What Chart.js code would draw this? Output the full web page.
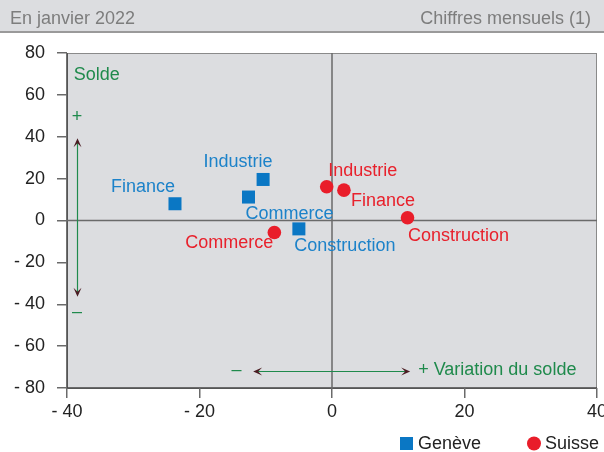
<!DOCTYPE html>
<html><head><meta charset="utf-8">
<script src="https://cdn.jsdelivr.net/npm/chart.js@4"></script>
<style>html,body{margin:0;padding:0;background:#fff}canvas{display:block}</style>
</head><body>
<canvas id="c" width="604" height="452"></canvas>
<script>
// ---- data ----
const categories = ['Finance', 'Industrie', 'Commerce', 'Construction'];
const genevaX = [-23.7, -10.4, -12.6, -5.0];
const genevaY = [8.0, 19.6, 11.2, -4.0];
const suisseX = [1.8, -0.8, -8.7, 11.4];
const suisseY = [14.5, 16.1, -5.7, 1.3];
const xTicks = [-40, -20, 0, 20, 40];
const yTicks = [80, 60, 40, 20, 0, -20, -40, -60, -80];
const seriesNames = ['Genève', 'Suisse'];
const headerLeft = 'En janvier 2022';
const headerRight = 'Chiffres mensuels (1)';
const yAxisTitle = 'Solde';
const xAxisTitle = '+ Variation du solde';

// ---- styles ----
const FONT = '"Liberation Sans", Arial, sans-serif';
const BLUE = '#0a77c4', BLUE_TXT = '#1c82c9';
const RED = '#e91d2a', RED_TXT = '#e8212c';
const GREEN = '#1f8a4c';
const BG = '#dcdde0';
const PLOT_RIGHT = 597;
const labelOffsets = {
  0: [[-32, -17], [-25, -17], [41, 17], [46, 17]],
  1: [[39, 11], [36, -16], [-45, 11], [51, 18]]
};

const fmt = v => v < 0 ? '- ' + Math.abs(v) : String(v);

const plugin = {
  id: 'deco',
  afterLayout(chart) {
    // let the plot reach the right edge (the last tick label is clipped, as in the original)
    const xs = chart.scales.x, a = chart.chartArea;
    xs.right = PLOT_RIGHT;
    xs.width = xs.right - xs.left;
    xs.configure();
    a.right = PLOT_RIGHT;
    a.width = a.right - a.left;
  },
  beforeDraw(chart) {
    const ctx = chart.ctx, a = chart.chartArea;
    ctx.save();
    // header band
    ctx.fillStyle = BG;
    ctx.fillRect(0, 0, 604, 31);
    ctx.fillStyle = '#9a9a9a';
    ctx.fillRect(0, 31, 604, 2);
    ctx.font = '18px ' + FONT;
    ctx.fillStyle = '#7d7d7d';
    ctx.textBaseline = 'middle';
    ctx.textAlign = 'left';
    ctx.fillText(headerLeft, 10, 19);
    ctx.textAlign = 'right';
    ctx.fillText(headerRight, 591, 19);
    // plot area
    ctx.fillStyle = BG;
    ctx.fillRect(a.left, a.top, a.right - a.left, a.bottom - a.top);
    ctx.strokeStyle = '#8a8a8a';
    ctx.lineWidth = 1;
    ctx.strokeRect(a.left + 0.5, a.top + 0.5, a.right - a.left - 1, a.bottom - a.top);
    ctx.strokeStyle = '#444';
    ctx.lineWidth = 1.5;
    ctx.beginPath();
    ctx.moveTo(a.left, a.bottom); ctx.lineTo(a.right, a.bottom);
    ctx.moveTo(a.left, a.top); ctx.lineTo(a.left, a.bottom);
    ctx.stroke();
    // zero lines
    const xs = chart.scales.x, ys = chart.scales.y;
    ctx.strokeStyle = '#6a6a6a';
    ctx.lineWidth = 1.5;
    ctx.beginPath();
    const x0 = xs.getPixelForValue(0), y0 = ys.getPixelForValue(0);
    ctx.moveTo(x0, a.top); ctx.lineTo(x0, a.bottom);
    ctx.moveTo(a.left, y0); ctx.lineTo(a.right, y0);
    ctx.stroke();
    // annotations
    const px = v => xs.getPixelForValue(v), py = v => ys.getPixelForValue(v);
    ctx.font = '18px ' + FONT;
    ctx.fillStyle = GREEN;
    ctx.textBaseline = 'middle';
    ctx.textAlign = 'left';
    ctx.fillText(yAxisTitle, px(-39.0), py(69.4));
    ctx.textAlign = 'center';
    ctx.fillText('+', px(-38.5), py(49.6));
    ctx.fillText('–', px(-38.5), py(-43.5));
    ctx.fillText('–', px(-14.4), py(-71.6));
    ctx.textAlign = 'left';
    ctx.fillText(xAxisTitle, px(13.0), py(-71.6));
    // arrows
    ctx.strokeStyle = GREEN;
    ctx.lineWidth = 1.2;
    const ax = Math.round(px(-38.5)) + 0.5, ay1 = py(39.3), ay2 = py(-36.4);
    ctx.beginPath(); ctx.moveTo(ax, ay1 + 4); ctx.lineTo(ax, ay2 - 4); ctx.stroke();
    const hy = Math.round(py(-71.8)) + 0.5, hx1 = px(-11.9), hx2 = px(11.8);
    ctx.beginPath(); ctx.moveTo(hx1 + 4, hy); ctx.lineTo(hx2 - 4, hy); ctx.stroke();
    ctx.fillStyle = '#4a1c22';
    const head = (x, y, dx, dy) => {
      const L = 9, W = 4, B = 5;
      const nx = -dy, ny = dx;
      ctx.beginPath();
      ctx.moveTo(x, y);
      ctx.lineTo(x - dx * L + nx * W, y - dy * L + ny * W);
      ctx.lineTo(x - dx * B, y - dy * B);
      ctx.lineTo(x - dx * L - nx * W, y - dy * L - ny * W);
      ctx.closePath();
      ctx.fill();
    };
    head(ax, ay1, 0, -1);
    head(ax, ay2, 0, 1);
    head(hx1, hy, -1, 0);
    head(hx2, hy, 1, 0);
    ctx.restore();
  },
  afterDraw(chart) {
    const ctx = chart.ctx;
    ctx.save();
    ctx.font = '18px ' + FONT;
    ctx.textAlign = 'center';
    ctx.textBaseline = 'middle';
    chart.data.datasets.forEach((ds, di) => {
      const meta = chart.getDatasetMeta(di);
      ctx.fillStyle = di === 0 ? BLUE_TXT : RED_TXT;
      meta.data.forEach((el, i) => {
        const o = labelOffsets[di][i];
        ctx.fillText(categories[i], el.x + o[0], el.y + o[1]);
      });
    });
    // legend
    ctx.textAlign = 'left';
    ctx.fillStyle = BLUE;
    ctx.fillRect(400, 437, 13, 13);
    ctx.fillStyle = '#222';
    ctx.fillText(seriesNames[0], 418, 444);
    ctx.fillStyle = RED;
    ctx.beginPath(); ctx.arc(534, 443.5, 7, 0, Math.PI * 2); ctx.fill();
    ctx.fillStyle = '#222';
    ctx.fillText(seriesNames[1], 545, 444);
    ctx.restore();
  }
};

const axisCommon = {
  type: 'linear',
  grid: { drawOnChartArea: false, drawTicks: true, tickLength: 10, color: '#6a6a6a', lineWidth: 1.5 },
  border: { display: false },
  ticks: { font: { family: FONT, size: 18 }, color: '#222', callback: v => fmt(v), autoSkip: false, maxRotation: 0 }
};

new Chart(document.getElementById('c'), {
  type: 'scatter',
  data: {
    datasets: [
      { label: seriesNames[0], data: genevaX.map((x, i) => ({ x, y: genevaY[i] })),
        pointStyle: 'rect', pointRadius: 9.2, pointHoverRadius: 9.2, backgroundColor: BLUE, borderWidth: 0 },
      { label: seriesNames[1], data: suisseX.map((x, i) => ({ x, y: suisseY[i] })),
        pointStyle: 'circle', pointRadius: 6.8, pointHoverRadius: 6.8, backgroundColor: RED, borderWidth: 0 }
    ]
  },
  options: {
    responsive: false,
    animation: false,
    events: [],
    layout: { autoPadding: false, padding: { top: 53, right: 7, left: 0, bottom: 0 } },
    plugins: { legend: { display: false }, tooltip: { enabled: false } },
    scales: {
      x: Object.assign({}, axisCommon, {
        min: -40, max: 40,
        afterBuildTicks: s => { s.ticks = xTicks.map(v => ({ value: v })); },
        afterFit: s => { s.height = 64; },
        ticks: Object.assign({}, axisCommon.ticks, { padding: 3 })
      }),
      y: Object.assign({}, axisCommon, {
        min: -80, max: 80,
        afterBuildTicks: s => { s.ticks = yTicks.map(v => ({ value: v })); },
        afterFit: s => { s.width = 67; },
        ticks: Object.assign({}, axisCommon.ticks, { padding: 12 })
      })
    }
  },
  plugins: [plugin]
});
</script>
</body></html>
